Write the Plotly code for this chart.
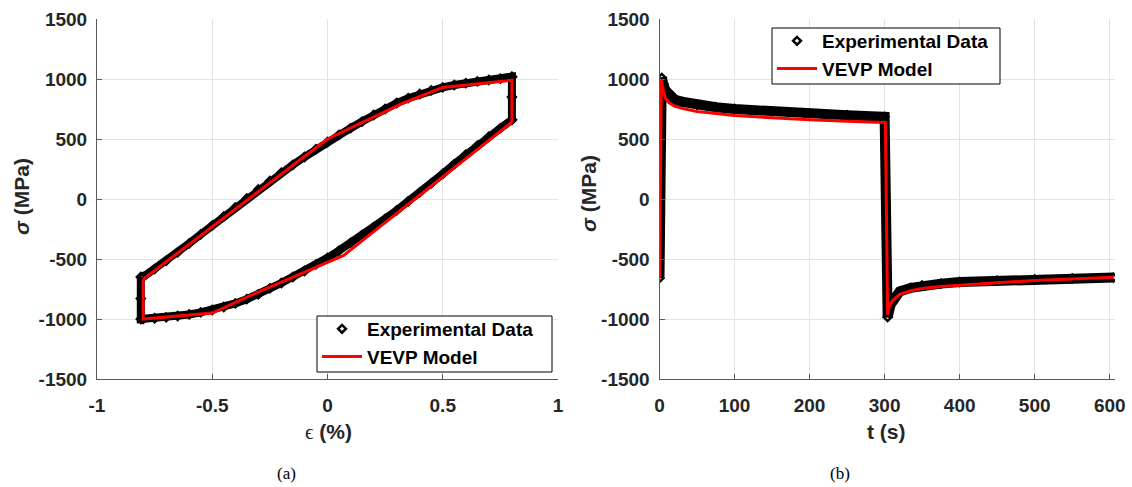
import plotly.graph_objects as go

# ---------------- (a) stress-strain hysteresis ----------------
# experimental loop: upper (loading) branch, then lower (unloading) branch
exp_strain_up = [-0.80, -0.75, -0.70, -0.65, -0.60, -0.55, -0.50, -0.45, -0.40, -0.35,
                 -0.30, -0.25, -0.20, -0.15, -0.10, -0.05, 0.00, 0.05, 0.10, 0.15,
                 0.20, 0.25, 0.30, 0.35, 0.40, 0.45, 0.50, 0.55, 0.60, 0.65,
                 0.70, 0.75, 0.80]
exp_stress_up = [-650, -585, -515, -445, -370, -295, -220, -145, -70, 5,
                 80, 150, 220, 285, 350, 415, 475, 535, 590, 645,
                 700, 750, 800, 840, 875, 905, 930, 950, 965, 980,
                 992, 1003, 1015]
exp_strain_hold_top = [0.80, 0.80, 0.80]
exp_stress_hold_top = [1020, 850, 660]
exp_strain_down = [0.80, 0.75, 0.70, 0.65, 0.60, 0.55, 0.50, 0.45, 0.40, 0.35,
                   0.30, 0.25, 0.20, 0.15, 0.10, 0.05, 0.00, -0.05, -0.10, -0.15,
                   -0.20, -0.25, -0.30, -0.35, -0.40, -0.45, -0.50, -0.55, -0.60, -0.65,
                   -0.70, -0.75, -0.80]
exp_stress_down = [660, 590, 520, 445, 370, 290, 210, 130, 55, -20,
                   -95, -165, -235, -300, -365, -430, -490, -545, -600, -650,
                   -700, -745, -795, -835, -870, -900, -925, -945, -962, -975,
                   -986, -994, -1000]
exp_strain_hold_bot = [-0.81, -0.81, -0.81]
exp_stress_hold_bot = [-1000, -830, -650]

# VEVP model loop
mod_strain = [-0.80, 0.00, 0.33, 0.50, 0.80, 0.80, 0.07, -0.33, -0.50, -0.80, -0.80]
mod_stress = [-670, 500, 800, 930, 990, 640, -470, -800, -950, -1000, -670]

# ---------------- (b) stress history ----------------
exp_time = [0, 3, 5, 8, 12, 20, 30, 50, 75, 100, 150, 200, 250, 300,
            304, 308, 312, 320, 335, 350, 375, 400, 450, 500, 550, 605]
exp_sigma = [-660, 1010, 960, 905, 870, 830, 810, 785, 765, 750, 728, 712, 698, 685,
             -985, -880, -830, -770, -740, -720, -705, -692, -680, -670, -662, -655]

mod_time = [0, 2.5, 5, 8, 12, 20, 30, 50, 100, 150, 200, 250, 301,
            304, 306, 310, 320, 335, 350, 375, 400, 450, 500, 550, 605]
mod_sigma = [-650, 990, 900, 840, 805, 775, 755, 730, 695, 675, 660, 648, 638,
             -965, -900, -850, -795, -765, -745, -730, -718, -698, -680, -665, -652]

# tick values and labels (plain hyphen minus signs)
y_ticks = [-1500, -1000, -500, 0, 500, 1000, 1500]
y_text = ["-1500", "-1000", "-500", "0", "500", "1000", "1500"]
xa_ticks = [-1, -0.5, 0, 0.5, 1]
xa_text = ["-1", "-0.5", "0", "0.5", "1"]
xb_ticks = [0, 100, 200, 300, 400, 500, 600]
xb_text = ["0", "100", "200", "300", "400", "500", "600"]

BLACK = "#000000"
RED = "#ff0000"
AXIS = "#262626"
AXLINE = "#5a5a5a"
GRID = "#e3e3e3"
SANS = "Liberation Sans, Arial, sans-serif"
SERIF = "Liberation Serif, DejaVu Serif, serif"

fig = go.Figure()

exp_x = exp_strain_up + exp_strain_hold_top + exp_strain_down + exp_strain_hold_bot
exp_y = exp_stress_up + exp_stress_hold_top + exp_stress_down + exp_stress_hold_bot

# (a) experimental band and markers
fig.add_trace(go.Scatter(x=exp_x, y=exp_y, mode="lines",
                         line=dict(color=BLACK, width=8),
                         showlegend=False, hoverinfo="skip",
                         xaxis="x", yaxis="y"))
fig.add_trace(go.Scatter(x=exp_x, y=exp_y, mode="markers", name="Experimental Data",
                         marker=dict(symbol="diamond-open", size=6, color=BLACK,
                                     line=dict(color=BLACK, width=2.5)),
                         legend="legend", xaxis="x", yaxis="y"))
fig.add_trace(go.Scatter(x=mod_strain, y=mod_stress, mode="lines", name="VEVP Model",
                         line=dict(color=RED, width=3),
                         legend="legend", xaxis="x", yaxis="y"))

# (b) experimental band and markers
fig.add_trace(go.Scatter(x=exp_time, y=exp_sigma, mode="lines",
                         line=dict(color=BLACK, width=10),
                         showlegend=False, hoverinfo="skip",
                         xaxis="x2", yaxis="y2"))
fig.add_trace(go.Scatter(x=exp_time, y=exp_sigma, mode="markers", name="Experimental Data",
                         marker=dict(symbol="diamond-open", size=6, color=BLACK,
                                     line=dict(color=BLACK, width=2.5)),
                         legend="legend2", xaxis="x2", yaxis="y2"))
fig.add_trace(go.Scatter(x=mod_time, y=mod_sigma, mode="lines", name="VEVP Model",
                         line=dict(color=RED, width=3),
                         legend="legend2", xaxis="x2", yaxis="y2"))

W, H = 1132, 487
y_dom = [1 - 379 / H, 1 - 19 / H]

common_axis = dict(
    showgrid=True, gridcolor=GRID, gridwidth=1,
    zeroline=False, showline=True, linecolor=AXLINE, linewidth=1,
    ticks="inside", ticklen=5, tickcolor=AXLINE, tickwidth=1,
    tickfont=dict(family=SANS, size=19, color=AXIS, weight="bold"),
    mirror=False, automargin=False,
)

legend_font = dict(family=SANS, size=19, color=BLACK, weight="bold")

fig.update_layout(
    width=W, height=H,
    margin=dict(l=0, r=0, t=0, b=0, pad=0),
    paper_bgcolor="white", plot_bgcolor="white",
    xaxis=dict(domain=[97 / W, 558 / W], range=[-1, 1], tickvals=xa_ticks, ticktext=xa_text,
               anchor="y", ticklabelstandoff=9, **common_axis),
    yaxis=dict(domain=y_dom, range=[-1500, 1500], tickvals=y_ticks, ticktext=y_text,
               anchor="x", ticklabelstandoff=5, **common_axis),
    xaxis2=dict(domain=[659.5 / W, 1115 / W], range=[0, 607], tickvals=xb_ticks,
                ticktext=xb_text, anchor="y2", ticklabelstandoff=9, **common_axis),
    yaxis2=dict(domain=y_dom, range=[-1500, 1500], tickvals=y_ticks, ticktext=y_text,
                anchor="x2", ticklabelstandoff=5, **common_axis),
    legend=dict(x=317 / W, y=1 - 310 / H, xanchor="left", yanchor="top",
                bgcolor="rgba(0,0,0,0)", borderwidth=0, font=legend_font,
                tracegroupgap=0, itemwidth=40),
    legend2=dict(x=772 / W, y=1 - 22 / H, xanchor="left", yanchor="top",
                 bgcolor="rgba(0,0,0,0)", borderwidth=0, font=legend_font,
                 tracegroupgap=0, itemwidth=40),
    showlegend=True,
)

# legend frames
for x0, y0, x1, y1 in [(317, 316, 552, 372), (772, 28, 1000, 84)]:
    fig.add_shape(type="rect", xref="paper", yref="paper",
                  x0=x0 / W, x1=x1 / W, y0=1 - y1 / H, y1=1 - y0 / H,
                  fillcolor="white", line=dict(color=BLACK, width=1), layer="above")

label_font = dict(family=SANS, size=21, color=AXIS, weight="bold")
annotations = [
    dict(text="<i>σ</i> (MPa)", x=22 / W, y=1 - 197 / H, textangle=-90),
    dict(text="<i>σ</i> (MPa)", x=588 / W, y=1 - 194 / H, textangle=-90),
    dict(text="<span style='font-family:Liberation Serif;font-weight:normal'>ϵ</span> (%)",
         x=328 / W, y=1 - 432 / H, textangle=0),
    dict(text="t (s)", x=886 / W, y=1 - 431 / H, textangle=0),
]
for a in annotations:
    fig.add_annotation(xref="paper", yref="paper", showarrow=False,
                       xanchor="center", yanchor="middle", font=label_font, **a)

for cap, cx in [("(a)", 286), ("(b)", 840)]:
    fig.add_annotation(text=cap, xref="paper", yref="paper", x=cx / W, y=1 - 473 / H,
                       showarrow=False, xanchor="center", yanchor="middle",
                       font=dict(family=SERIF, size=17, color=BLACK))

fig.write_html("out.html")
